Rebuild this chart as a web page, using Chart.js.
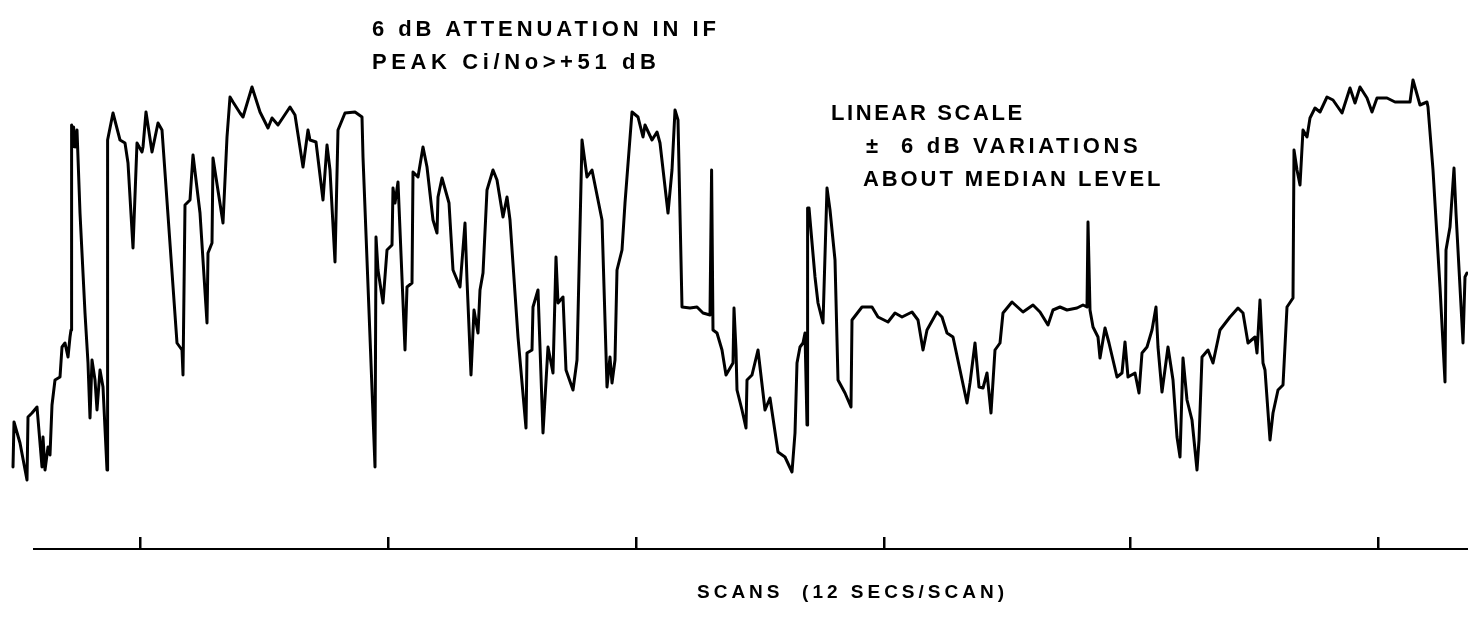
<!DOCTYPE html>
<html>
<head>
<meta charset="utf-8">
<script src="https://cdn.jsdelivr.net/npm/chart.js@4/dist/chart.umd.min.js"></script>
<style>
  body { margin: 0; background: #fff; }
  #wrap { width: 1468px; height: 618px; }
</style>
</head>
<body>
<div id="wrap"><canvas id="canvas" width="1468" height="618"></canvas></div>
<script>
// scan number of each reading (12 secs/scan)
var scanNo = [
  1.5, 2, 5, 8.5, 9, 11, 13.5, 16, 16.5, 17.5, 19, 20, 21, 22.5, 25, 26, 27.5, 29, 30, 30.5,
  30.8, 31.3, 31.8, 32.5, 33.5, 35, 37.5, 39, 40, 41, 42.5, 43.5, 45, 46.5, 48.5, 48.8, 51.5, 55, 57.5, 59,
  61.5, 63.5, 66, 66.5, 68, 71, 74, 76, 83.5, 86, 86.5, 87.5, 90, 91.5, 95, 98.5, 99, 101, 101.5, 106.5,
  108.5, 110, 111.5, 115, 116.5, 121, 125, 129, 131, 134, 140, 142.5, 146.5, 149, 150, 153, 156.5, 158.5, 160, 162.5,
  164, 167.5, 172.5, 176, 176.5, 180, 182.5, 183, 184, 186.5, 188.5, 191, 191.5, 192.5, 194, 197.5, 198.5, 201, 201.5, 204,
  206.5, 208.5, 211.5, 213.5, 214, 216, 219.5, 221.5, 225, 227.5, 228.5, 230.5, 232, 234, 235, 236.5, 238.5, 241.5, 243.5, 246.5,
  248.5, 250, 254, 258, 258.5, 261, 261.5, 264, 266.5, 269, 271.5, 273, 274, 276.5, 278, 281.5, 283.5, 286, 288.5, 291,
  296, 298.5, 300, 301, 302.5, 303.5, 306, 307.5, 311, 314, 316.5, 317.5, 321, 323.5, 325, 329, 331, 332.5, 334, 336,
  340, 343.5, 346.5, 350, 350.8, 351.5, 353.5, 356, 358, 361.5, 362, 363, 363.5, 366, 368, 368.5, 371, 374, 377.5, 380,
  384, 387.5, 391, 392.5, 393.5, 395, 396.5, 397.5, 398.5, 398.8, 399.5, 402.5, 404, 406.5, 408.5, 410, 412.5, 414, 417.5, 420.5,
  421, 426, 431, 434, 439, 442.5, 446, 451, 454, 456.5, 458.5, 463.5, 466, 468.5, 471.5, 475, 478.5, 480, 482.5, 484.5,
  486.5, 488.5, 490.5, 492.5, 495, 496.5, 501, 506.5, 511.5, 515, 519, 521.5, 525, 528.5, 533.5, 536.5, 538.5, 539, 540, 541.5,
  544, 545, 547.5, 549.5, 553.5, 556, 557.5, 559, 562.5, 564.5, 566, 568.5, 571, 573, 574, 576, 579, 581.5, 583.5, 585,
  586.5, 588.5, 591, 593.5, 594.5, 596, 599, 601.5, 605, 610, 614, 616.5, 619, 622.5, 623.5, 625, 626.5, 627.5, 630, 631.5,
  634, 636.5, 638.5, 641.5, 642, 643.5, 645, 646.5, 648.5, 650, 652.5, 655, 658.5, 661.5, 666, 670, 672.5, 675, 678.5, 681,
  683.5, 688.5, 692.5, 696.5, 700, 701.5, 705, 708.5, 709, 711.5, 715, 717.5, 718, 720, 722, 723, 726.5, 727.5, 728.5
];
// received level, linear scale, 0 = bottom of plot, 100 = top
var level = [
  16.4, 25.4, 21.2, 13.8, 26.4, 27.2, 28.4, 16.4, 22.4, 15.8, 20.4, 18.8, 28.8, 33.8, 34.4, 40.4, 41.2, 38.4, 42.4, 43.8,
  84.8, 80.4, 84.4, 80.4, 83.8, 67.2, 47.2, 37.2, 26.2, 37.8, 33.8, 27.8, 35.8, 32.4, 15.8, 81.8, 87.2, 81.8, 81.2, 77.2,
  60.2, 81.2, 79.4, 80.4, 87.4, 79.4, 85.2, 83.8, 41.2, 39.8, 34.8, 68.8, 69.8, 78.8, 67.2, 45.2, 59.2, 61.2, 78.2, 65.2,
  82.4, 90.4, 89.4, 87.2, 86.4, 92.4, 87.4, 84.2, 86.2, 84.8, 88.4, 86.8, 76.4, 83.8, 81.8, 81.4, 69.8, 80.8, 75.8, 57.4,
  83.8, 87.2, 87.4, 86.4, 78.4, 42.4, 16.4, 62.4, 55.8, 49.2, 59.8, 60.8, 72.2, 69.2, 73.4, 39.8, 52.4, 53.2, 75.4, 74.4,
  80.4, 76.4, 65.8, 63.2, 70.4, 74.2, 69.2, 55.8, 52.4, 65.2, 53.8, 34.8, 47.8, 43.2, 51.8, 55.2, 71.8, 75.8, 73.8, 66.4,
  70.4, 65.8, 42.4, 24.2, 39.2, 39.8, 48.4, 51.8, 23.2, 40.4, 35.2, 58.4, 49.2, 50.4, 35.8, 31.8, 37.8, 81.8, 74.4, 75.8,
  65.8, 32.4, 38.4, 33.2, 37.8, 55.8, 59.8, 69.2, 87.4, 86.4, 82.4, 84.8, 81.8, 83.4, 81.2, 67.2, 75.8, 87.8, 85.8, 48.4,
  48.2, 48.4, 47.2, 46.8, 75.8, 43.8, 43.2, 39.8, 34.8, 37.2, 48.2, 39.8, 31.8, 27.8, 24.2, 33.8, 34.8, 39.8, 27.8, 30.2,
  19.4, 18.4, 15.4, 23.2, 37.2, 40.4, 41.2, 43.2, 24.8, 68.2, 68.2, 54.4, 49.2, 45.2, 72.2, 67.8, 57.8, 33.8, 31.2, 28.4,
  45.8, 48.4, 48.4, 46.4, 45.4, 47.2, 46.4, 47.4, 45.8, 39.8, 43.8, 47.4, 46.4, 43.2, 42.4, 35.8, 29.2, 33.2, 41.2, 32.4,
  32.2, 35.2, 27.2, 39.8, 41.2, 47.2, 49.4, 47.4, 48.8, 47.4, 44.8, 47.8, 48.4, 47.8, 48.2, 48.8, 48.4, 65.4, 47.8, 44.4,
  42.4, 38.2, 44.2, 41.2, 34.4, 35.2, 41.4, 34.4, 35.2, 31.2, 39.2, 40.4, 43.8, 48.4, 40.4, 31.4, 40.4, 33.8, 22.4, 18.4,
  38.2, 29.8, 25.8, 15.8, 21.8, 38.4, 39.8, 37.2, 43.8, 46.4, 48.2, 47.2, 41.2, 42.4, 39.2, 49.8, 37.2, 35.8, 21.8, 27.2,
  31.8, 32.8, 48.4, 50.2, 79.8, 75.8, 72.8, 83.8, 82.4, 86.2, 88.2, 87.4, 90.4, 89.8, 87.2, 92.2, 89.2, 92.4, 90.2, 87.4,
  90.2, 90.2, 89.4, 89.4, 89.4, 93.8, 88.8, 89.4, 88.4, 75.8, 52.4, 33.4, 59.8, 64.4, 76.2, 67.2, 41.2, 54.4, 55.2
];
// scan numbers where the axis has a tick mark
var tickScans = [65, 189, 313, 437, 560, 684];
// stretch of scans that the drawn axis covers
var axisStart = 12;
var axisEnd = 729;

// texts written on the record
var noteLeft = ["6 dB ATTENUATION IN IF", "PEAK Ci/No>+51 dB"];
var noteRight = ["LINEAR SCALE", "\u00B1  6 dB VARIATIONS", "ABOUT MEDIAN LEVEL"];
var axisTitle = "SCANS  (12 SECS/SCAN)";

// pair up the readings for chart.js
var points = scanNo.map((s, i) => ({ x: s, y: level[i] }));

// draws one line of text with its own letter spacing
var note = (ctx, text, x, y, spacing) => {
  ctx.letterSpacing = spacing + 'px';
  ctx.fillText(text, x, y);
};

// draws the notes on the chart
var notesPlugin = {
  id: 'notes',
  afterDraw: (chart) => {
    var ctx = chart.ctx;
    ctx.save();
    ctx.fillStyle = '#000';
    ctx.textBaseline = 'alphabetic';
    ctx.font = 'bold 22px "Liberation Sans", Arial, sans-serif';
    note(ctx, noteLeft[0], 372, 36, 3.9);
    note(ctx, noteLeft[1], 372, 69, 4.6);
    note(ctx, noteRight[0], 831, 120, 2.6);
    note(ctx, noteRight[1], 866, 153, 3.6);
    note(ctx, noteRight[2], 863, 186, 2.9);
    ctx.font = 'bold 19px "Liberation Sans", Arial, sans-serif';
    note(ctx, axisTitle, 697, 598, 4);
    ctx.restore();
  }
};

var config = {
  type: 'line',
  data: {
    datasets: [{
      data: points,
      borderColor: '#000',
      borderWidth: 3,
      pointRadius: 0,
      tension: 0,
      clip: false,
      borderJoinStyle: 'round',
      borderCapStyle: 'round'
    }]
  },
  options: {
    responsive: false,
    animation: false,
    layout: { padding: { left: 34, right: 0, top: 49, bottom: 69 } },
    plugins: { legend: { display: false }, tooltip: { enabled: false } },
    scales: {
      x: {
        type: 'linear',
        position: { y: 0 },
        bounds: 'data',
        // the trace starts a little before the axis line, so the range is set here
        // and not as min/max (those would hide the first readings)
        afterDataLimits: (scale) => { scale.min = axisStart; scale.max = axisEnd; },
        afterBuildTicks: (scale) => { scale.ticks = tickScans.map(v => ({ value: v })); },
        ticks: { display: false },
        grid: { display: true, drawOnChartArea: false, drawTicks: true, tickLength: -13, color: '#000', lineWidth: 2.5 },
        border: { display: true, color: '#000', width: 2 }
      },
      y: {
        display: false,
        min: 0,
        max: 100
      }
    }
  },
  plugins: [notesPlugin]
};

new Chart(document.getElementById('canvas'), config);
</script>
</body>
</html>
